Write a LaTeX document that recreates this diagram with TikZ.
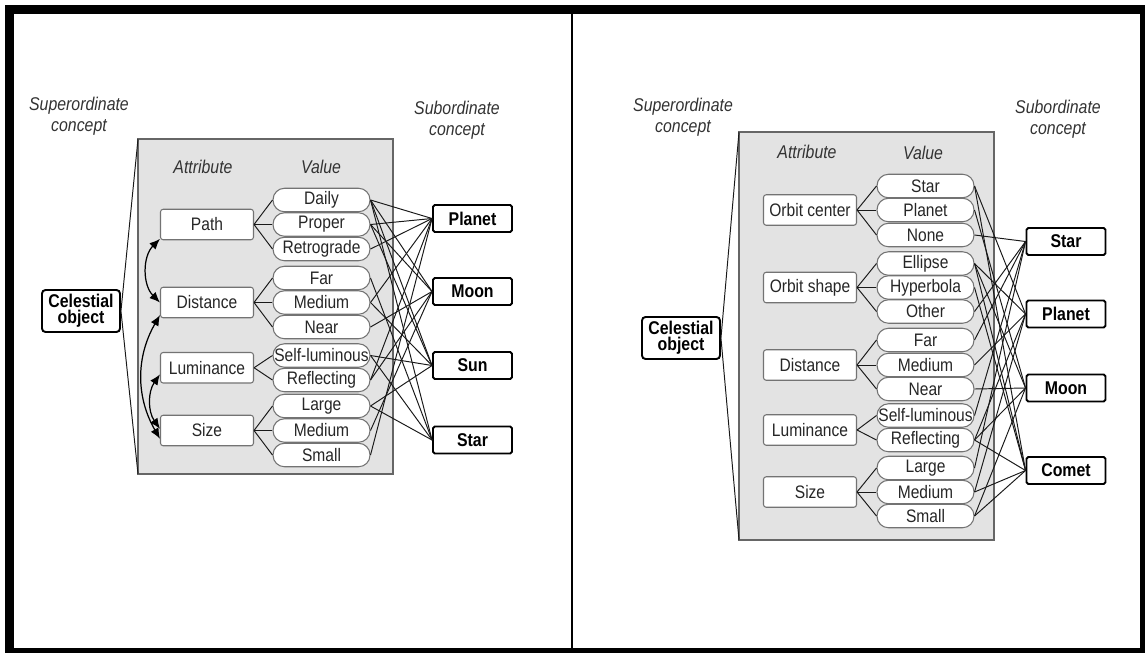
\documentclass[tikz,border=0pt]{standalone}
\usepackage{fontspec}
\setmainfont{Liberation Sans}[FakeStretch=0.86]
\usetikzlibrary{arrows.meta}

\begin{document}
\begin{tikzpicture}[x=0.02cm,y=-0.02cm,
  every node/.style={font=\fontsize{10.3}{11.5}\selectfont},
  hdr/.style={font=\fontsize{10.5}{12}\selectfont\itshape,align=center,text=black!80},
  attr/.style={draw=black!55,line width=0.6pt,fill=white,rounded corners=1.5pt,minimum width=1.86cm,minimum height=0.61cm,inner sep=0pt,text=black!85},
  val/.style={draw=black!55,line width=0.6pt,fill=white,rounded corners=0.23cm,minimum width=1.94cm,minimum height=0.47cm,inner sep=0pt,text=black!85},
  sub/.style={draw=black,line width=1.1pt,fill=white,rounded corners=1pt,minimum width=1.58cm,minimum height=0.54cm,inner sep=0pt,font=\fontsize{10.5}{12}\selectfont\bfseries},
  celest/.style={sub,minimum width=1.56cm,minimum height=0.84cm,rounded corners=2pt,align=center,font=\fontsize{10.5}{9}\selectfont\bfseries},
  link/.style={draw=black!90,line width=0.55pt},
  box/.style={draw=black!60,fill=black!11,line width=0.7pt},
  dbl/.style={{Latex[length=6pt,width=5pt]}-{Latex[length=6pt,width=5pt]},line width=0.7pt}
]
\useasboundingbox (0,0) rectangle (1145,653);
% frame
\fill[black] (5,5) rectangle (1145,653);
\fill[white] (14,14) rectangle (1140,648);
\draw[line width=0.9pt] (572,14) -- (572,648);

% Left panel
\draw[box] (138,139) rectangle (393,474);
\coordinate (boxLt) at (138,139);
\coordinate (boxLb) at (138,474);
\node[hdr] (supL) at (79,116) {Superordinate\\concept};
\node[hdr] (subL) at (457,120) {Subordinate\\concept};
\node[hdr] (attL) at (203,167) {Attribute};
\node[hdr] (valL) at (321,167) {Value};
\node[celest] (celL) at (81,311) {Celestial\\object};
\draw[link] (boxLt) -- (celL.east) -- (boxLb);
\foreach \n/\y/\t in {aPath/224.5/Path, aDist/302.5/Distance, aLum/367.75/Luminance, aSize/430.5/Size}
  \node[attr] (\n) at (207,\y) {\t};
\foreach \n/\y/\t in {vDaily/200/Daily, vProper/224.5/Proper, vRetro/249/Retrograde,
    vFar/278/Far, vMedD/302.5/Medium, vNear/327/Near, vSelf/355.5/Self-luminous,
    vRefl/380/Reflecting, vLarge/406/Large, vMedS/430.5/Medium, vSmall/455/Small}
  \node[val] (\n) at (321.5,\y) {\t};
\foreach \n/\y/\t in {sPlanet/218.5/Planet, sMoon/291.5/Moon, sSun/365.5/Sun, sStar/440/Star}
  \node[sub] (\n) at (472.5,\y) {\t};
\foreach \a/\b in {aPath/vDaily, aPath/vProper, aPath/vRetro, aDist/vFar, aDist/vMedD, aDist/vNear,
    aLum/vSelf, aLum/vRefl, aSize/vLarge, aSize/vMedS, aSize/vSmall}
  \draw[link] (\a.east) -- (\b.west);
\foreach \a/\b in {vDaily/sPlanet, vDaily/sMoon, vDaily/sSun, vDaily/sStar, vProper/sPlanet,
    vProper/sMoon, vProper/sSun, vRetro/sPlanet, vFar/sStar, vMedD/sPlanet, vMedD/sSun,
    vNear/sMoon, vSelf/sSun, vSelf/sStar, vRefl/sPlanet, vRefl/sMoon, vLarge/sSun,
    vLarge/sStar, vMedS/sMoon, vSmall/sPlanet}
  \draw[link] (\a.east) -- (\b.west);
% links between attributes
\draw[dbl] (aPath.197) to[bend right=45] (aDist.180);
\draw[dbl] (aDist.195) to[bend right=30] (aSize.190);
\draw[dbl] (aLum.188) to[bend right=35] (aSize.178);

% Right panel
\draw[box] (739,132) rectangle (994,540);
\coordinate (boxRt) at (739,132);
\coordinate (boxRb) at (739,540);
\node[hdr] (supR) at (683,117) {Superordinate\\concept};
\node[hdr] (subR) at (1058,119) {Subordinate\\concept};
\node[hdr] (attR) at (807,152) {Attribute};
\node[hdr] (valR) at (923,153) {Value};
\node[celest] (celR) at (681,338) {Celestial\\object};
\draw[link] (boxRt) -- (celR.east) -- (boxRb);
\foreach \n/\y/\t in {raCenter/210/Orbit center, raShape/287.5/Orbit shape, raDist/365/Distance,
    raLum/430/Luminance, raSize/492/Size}
  \node[attr] (\n) at (810,\y) {\t};
\foreach \n/\y/\t in {rvStar/186/Star, rvPlanet/210/Planet, rvNone/235/None,
    rvEllipse/263.5/Ellipse, rvHyper/287.5/Hyperbola, rvOther/311.5/Other,
    rvFar/340/Far, rvMedD/365/Medium, rvNear/389/Near, rvSelf/415.5/Self-luminous,
    rvRefl/440/Reflecting, rvLarge/468/Large, rvMedS/492/Medium, rvSmall/516/Small}
  \node[val] (\n) at (925.5,\y) {\t};
\foreach \n/\y/\t in {rsStar/241.5/Star, rsPlanet/314/Planet, rsMoon/388/Moon, rsComet/470.5/Comet}
  \node[sub] (\n) at (1066,\y) {\t};
\foreach \a/\b in {raCenter/rvStar, raCenter/rvPlanet, raCenter/rvNone, raShape/rvEllipse,
    raShape/rvHyper, raShape/rvOther, raDist/rvFar, raDist/rvMedD, raDist/rvNear,
    raLum/rvSelf, raLum/rvRefl, raSize/rvLarge, raSize/rvMedS, raSize/rvSmall}
  \draw[link] (\a.east) -- (\b.west);
\foreach \a/\b in {rvNone/rsStar, rvOther/rsStar, rvFar/rsStar, rvSelf/rsStar, rvLarge/rsStar,
    rvStar/rsPlanet, rvEllipse/rsPlanet, rvMedD/rsPlanet, rvRefl/rsPlanet, rvMedS/rsPlanet,
    rvPlanet/rsMoon, rvEllipse/rsMoon, rvNear/rsMoon, rvRefl/rsMoon, rvSmall/rsMoon,
    rvStar/rsComet, rvEllipse/rsComet, rvHyper/rsComet, rvRefl/rsComet, rvMedS/rsComet, rvSmall/rsComet}
  \draw[link] (\a.east) -- (\b.west);
\end{tikzpicture}
\end{document}
